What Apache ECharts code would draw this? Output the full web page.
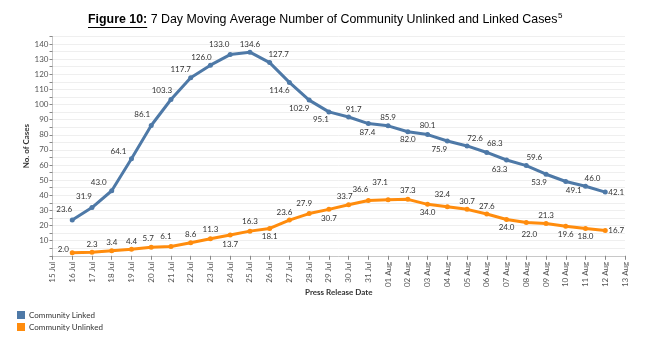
<!DOCTYPE html>
<html>
<head>
<meta charset="utf-8">
<script src="https://cdn.jsdelivr.net/npm/echarts@6/dist/echarts.min.js"></script>
<style>
html,body{margin:0;padding:0;background:#fff;}
#c{width:671px;height:350px;}
</style>
</head>
<body>
<div id="c"></div>
<script>
// ---- data ----
const tickLabels = ['15 Jul','16 Jul','17 Jul','18 Jul','19 Jul','20 Jul','21 Jul','22 Jul','23 Jul','24 Jul','25 Jul','26 Jul','27 Jul','28 Jul','29 Jul','30 Jul','31 Jul','01 Aug','02 Aug','03 Aug','04 Aug','05 Aug','06 Aug','07 Aug','08 Aug','09 Aug','10 Aug','11 Aug','12 Aug','13 Aug'];
const pointDates = ['16 Jul','17 Jul','18 Jul','19 Jul','20 Jul','21 Jul','22 Jul','23 Jul','24 Jul','25 Jul','26 Jul','27 Jul','28 Jul','29 Jul','30 Jul','31 Jul','01 Aug','02 Aug','03 Aug','04 Aug','05 Aug','06 Aug','07 Aug','08 Aug','09 Aug','10 Aug','11 Aug','12 Aug'];
const linked = [23.6,31.9,43.0,64.1,86.1,103.3,117.7,126.0,133.0,134.6,127.7,114.6,102.9,95.1,91.7,87.4,85.9,82.0,80.1,75.9,72.6,68.3,63.3,59.6,53.9,49.1,46.0,42.1];
const unlinked = [2.0,2.3,3.4,4.4,5.7,6.1,8.6,11.3,13.7,16.3,18.1,23.6,27.9,30.7,33.7,36.6,37.1,37.3,34.0,32.4,30.7,27.6,24.0,22.0,21.3,19.6,18.0,16.7];
const seriesNames = ['Community Linked','Community Unlinked'];

// ---- label placement (pixel offsets of label centre from the point) ----
const linkedLabelOffsets = [[-8,-11],[-8,-11],[-13,-8],[-13,-7],[-9,-11],[-9,-9],[-10,-8],[-9,-8],[-11,-10],[0,-8],[9,-8],[-10,8],[-10,8],[-8,8],[5,-8],[-1,9],[0,-8],[0,8],[0,-9],[-8,8],[8,-8],[8,-9],[-7,9],[8,-8],[-7,8],[8,9],[7,-8],[11,0]];
const unlinkedLabelOffsets = [[-9,-3],[0,-8],[0,-8],[0,-8],[-3,-9],[-5,-10],[0,-8],[0,-9],[0,9],[0,-10],[0,8],[-5,-8],[-5,-10],[0,9],[-4,-8],[-8,-11],[-8,-17],[0,-9],[0,8],[-5,-12],[0,-8],[0,-8],[0,8],[3,12],[0,-8],[0,8],[0,8],[11,0]];

const BLUE = '#4e79a7';
const ORANGE = '#ff8c0d';
const FONT = 'Lato, "Noto Sans", sans-serif';
const SYM = 5;
const LFS = 8;

function buildData(vals, offs){
  return pointDates.map((d,i)=>({
    value:[d, vals[i]],
    label:{
      show:true,
      position:[SYM/2 + offs[i][0], SYM/2 + offs[i][1]],
      align:'center', verticalAlign:'middle',
      formatter: vals[i].toFixed(1)
    }
  }));
}

// title measurement
const mctx = document.createElement('canvas').getContext('2d');
function tw(font, s){ mctx.font = font; return mctx.measureText(s).width; }
const TF = '"Liberation Sans", Arial, sans-serif';
const TS = 12.4;
const tBold = 'Figure 10:';
const tReg = ' 7 Day Moving Average Number of Community Unlinked and Linked Cases';
const tX = 88, tY = 20;
const wBold = tw('bold ' + TS + 'px ' + TF, tBold);
const wReg = tw(TS + 'px ' + TF, tReg);

const chart = echarts.init(document.getElementById('c'), null, {renderer:'canvas'});
chart.setOption({
  animation:false,
  backgroundColor:'#fff',
  graphic:[
    {type:'text', left:tX, top:tY-6, style:{text:tBold, font:'bold '+TS+'px '+TF, fill:'#000', verticalAlign:'top'}},
    {type:'line', shape:{x1:tX, y1:tY+7.5, x2:tX+wBold, y2:tY+7.5}, style:{stroke:'#000', lineWidth:1}},
    {type:'text', left:tX+wBold, top:tY-6, style:{text:tReg, font:TS+'px '+TF, fill:'#000', verticalAlign:'top'}},
    {type:'text', left:tX+wBold+wReg+0.5, top:tY-8, style:{text:'5', font:'8px '+TF, fill:'#000', verticalAlign:'top'}}
  ],
  legend:{
    orient:'vertical', left:17, top:311, itemWidth:8, itemHeight:8, itemGap:4, padding:0,
    icon:'rect',
    textStyle:{fontSize:8, color:'#333', fontFamily:FONT, padding:[0,0,0,-1]},
    data:seriesNames
  },
  grid:{left:52.5, right:46, top:36.4, bottom:94.2, containLabel:false},
  xAxis:{
    type:'category', data:tickLabels, boundaryGap:false,
    name:'Press Release Date', nameLocation:'middle', nameGap:33, nameMoveOverlap:false,
    nameTextStyle:{fontSize:8, fontWeight:'bold', color:'#333', fontFamily:FONT},
    axisLine:{show:true, lineStyle:{color:'#c8c8c8', width:1}},
    axisTick:{show:true, length:4, alignWithLabel:true, interval:0, lineStyle:{color:'#888'}},
    axisLabel:{interval:0, rotate:90, fontSize:LFS, color:'#555', margin:6, fontFamily:FONT},
    splitLine:{show:false}
  },
  yAxis:{
    type:'value', min:0, max:145, interval:5,
    name:'No. of Cases', nameLocation:'middle', nameGap:22, nameRotate:90, nameMoveOverlap:false,
    nameTextStyle:{fontSize:8, fontWeight:'bold', color:'#333', fontFamily:FONT},
    axisLine:{show:true, lineStyle:{color:'#c8c8c8'}},
    axisTick:{show:true, length:3, lineStyle:{color:'#888'}},
    axisLabel:{fontSize:LFS, color:'#555', margin:4, fontFamily:FONT,
      formatter:v=> (v>0 && v%10===0) ? String(v) : ''},
    splitLine:{show:true, lineStyle:{color:'#efefef', width:1}}
  },
  series:[
    {
      name:seriesNames[0], type:'line', data:buildData(linked, linkedLabelOffsets),
      symbol:'circle', symbolSize:SYM, color:BLUE,
      lineStyle:{width:3, color:BLUE}, itemStyle:{color:BLUE},
      label:{fontSize:LFS, color:'#333', fontFamily:FONT},
      labelLayout:{hideOverlap:false}, z:3
    },
    {
      name:seriesNames[1], type:'line', data:buildData(unlinked, unlinkedLabelOffsets),
      symbol:'circle', symbolSize:SYM, color:ORANGE,
      lineStyle:{width:3, color:ORANGE}, itemStyle:{color:ORANGE},
      label:{fontSize:LFS, color:'#333', fontFamily:FONT},
      labelLayout:{hideOverlap:false}, z:2
    }
  ]
});
</script>
</body>
</html>
